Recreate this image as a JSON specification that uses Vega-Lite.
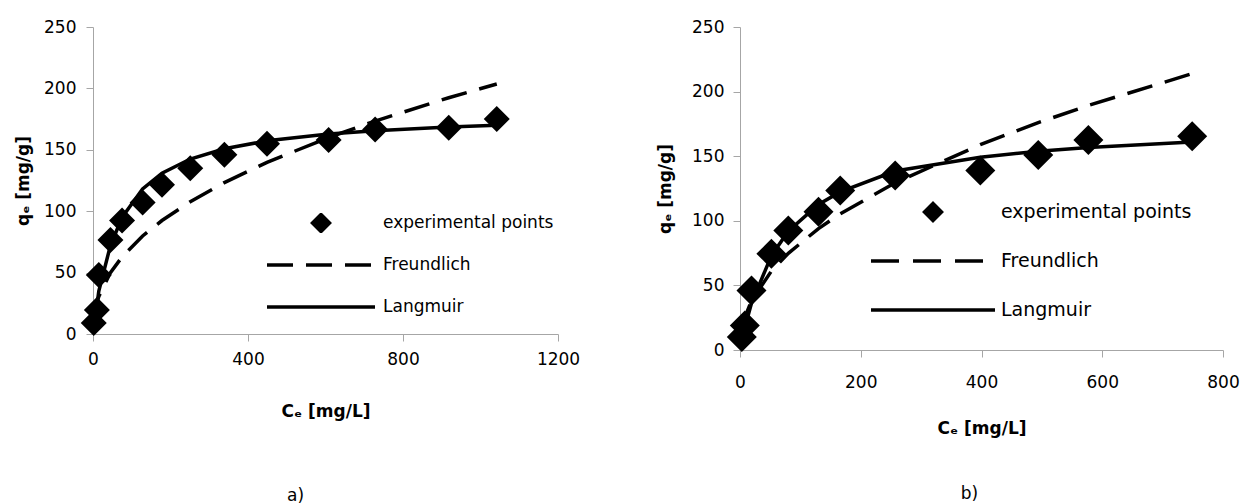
{
  "$schema": "https://vega.github.io/schema/vega-lite/v6.json",
  "background": "white",
  "padding": {"left": 14, "top": 18, "right": 5, "bottom": 0},
  "spacing": 76,
  "config": {
    "view": {"stroke": null},
    "font": "DejaVu Sans",
    "axis": {
      "grid": false,
      "domainColor": "#a6a6a6",
      "tickColor": "#a6a6a6",
      "domainWidth": 1,
      "tickWidth": 1,
      "tickSize": 7,
      "labelFont": "DejaVu Sans",
      "labelFontSize": 17,
      "labelColor": "#000000",
      "labelFlush": false,
      "format": "d",
      "titleFont": "DejaVu Sans",
      "titleFontSize": 17,
      "titleFontWeight": "bold",
      "titleColor": "#000000"
    },
    "legend": {
      "labelFont": "DejaVu Sans",
      "labelColor": "#000000",
      "labelLimit": 400,
      "padding": 0,
      "symbolStrokeWidth": 3.5
    }
  },
  "resolve": {"scale": {"color": "independent"}, "legend": {"color": "independent"}},
  "datasets": {
    "aPts": [
      {"series": "experimental points", "C": 2, "q": 9},
      {"series": "experimental points", "C": 10, "q": 19.5},
      {"series": "experimental points", "C": 15, "q": 48},
      {"series": "experimental points", "C": 45, "q": 76.5},
      {"series": "experimental points", "C": 75, "q": 92.5},
      {"series": "experimental points", "C": 128, "q": 107},
      {"series": "experimental points", "C": 178, "q": 121.5},
      {"series": "experimental points", "C": 251, "q": 135},
      {"series": "experimental points", "C": 339, "q": 146},
      {"series": "experimental points", "C": 449, "q": 155},
      {"series": "experimental points", "C": 608, "q": 158},
      {"series": "experimental points", "C": 728, "q": 166.5},
      {"series": "experimental points", "C": 918, "q": 168},
      {"series": "experimental points", "C": 1042, "q": 175}
    ],
    "aFr": [
      {"series": "Freundlich", "C": 2, "q": 12.4},
      {"series": "Freundlich", "C": 10, "q": 25.5},
      {"series": "Freundlich", "C": 15, "q": 30.6},
      {"series": "Freundlich", "C": 45, "q": 50},
      {"series": "Freundlich", "C": 75, "q": 62.8},
      {"series": "Freundlich", "C": 128, "q": 79.8},
      {"series": "Freundlich", "C": 178, "q": 92.4},
      {"series": "Freundlich", "C": 251, "q": 107.7},
      {"series": "Freundlich", "C": 339, "q": 123.3},
      {"series": "Freundlich", "C": 449, "q": 139.8},
      {"series": "Freundlich", "C": 608, "q": 160},
      {"series": "Freundlich", "C": 728, "q": 173.4},
      {"series": "Freundlich", "C": 918, "q": 192.4},
      {"series": "Freundlich", "C": 1042, "q": 203.6}
    ],
    "aLa": [
      {"series": "Langmuir", "C": 2, "q": 5.2},
      {"series": "Langmuir", "C": 10, "q": 23.2},
      {"series": "Langmuir", "C": 15, "q": 35},
      {"series": "Langmuir", "C": 45, "q": 72.1},
      {"series": "Langmuir", "C": 75, "q": 94.9},
      {"series": "Langmuir", "C": 128, "q": 118.2},
      {"series": "Langmuir", "C": 178, "q": 131},
      {"series": "Langmuir", "C": 251, "q": 142.5},
      {"series": "Langmuir", "C": 339, "q": 150.8},
      {"series": "Langmuir", "C": 449, "q": 157.3},
      {"series": "Langmuir", "C": 608, "q": 162.9},
      {"series": "Langmuir", "C": 728, "q": 165.6},
      {"series": "Langmuir", "C": 918, "q": 168.6},
      {"series": "Langmuir", "C": 1042, "q": 170}
    ],
    "bPts": [
      {"series": "experimental points", "C": 3, "q": 10},
      {"series": "experimental points", "C": 8, "q": 19},
      {"series": "experimental points", "C": 19, "q": 46},
      {"series": "experimental points", "C": 52, "q": 74.5},
      {"series": "experimental points", "C": 80, "q": 92.5},
      {"series": "experimental points", "C": 130, "q": 107},
      {"series": "experimental points", "C": 166, "q": 123.5},
      {"series": "experimental points", "C": 257, "q": 135},
      {"series": "experimental points", "C": 398, "q": 139},
      {"series": "experimental points", "C": 494, "q": 151},
      {"series": "experimental points", "C": 577, "q": 162.5},
      {"series": "experimental points", "C": 749, "q": 165.5}
    ],
    "bFr": [
      {"series": "Freundlich", "C": 3, "q": 16},
      {"series": "Freundlich", "C": 8, "q": 25.3},
      {"series": "Freundlich", "C": 19, "q": 38},
      {"series": "Freundlich", "C": 52, "q": 61.1},
      {"series": "Freundlich", "C": 80, "q": 74.8},
      {"series": "Freundlich", "C": 130, "q": 94},
      {"series": "Freundlich", "C": 166, "q": 105.4},
      {"series": "Freundlich", "C": 257, "q": 129.4},
      {"series": "Freundlich", "C": 398, "q": 158.9},
      {"series": "Freundlich", "C": 494, "q": 176},
      {"series": "Freundlich", "C": 577, "q": 189.3},
      {"series": "Freundlich", "C": 749, "q": 213.9}
    ],
    "bLa": [
      {"series": "Langmuir", "C": 3, "q": 6.9},
      {"series": "Langmuir", "C": 8, "q": 17.3},
      {"series": "Langmuir", "C": 19, "q": 36.1},
      {"series": "Langmuir", "C": 52, "q": 73},
      {"series": "Langmuir", "C": 80, "q": 91.9},
      {"series": "Langmuir", "C": 130, "q": 112.7},
      {"series": "Langmuir", "C": 166, "q": 122.4},
      {"series": "Langmuir", "C": 257, "q": 138.5},
      {"series": "Langmuir", "C": 398, "q": 149.2},
      {"series": "Langmuir", "C": 494, "q": 153.9},
      {"series": "Langmuir", "C": 577, "q": 156.8},
      {"series": "Langmuir", "C": 749, "q": 161}
    ]
  },
  "hconcat": [
    {
      "width": 465,
      "height": 307,
      "title": {"text": "a)", "orient": "bottom", "anchor": "middle", "frame": "group", "dx": -30, "offset": 69, "fontSize": 17, "fontWeight": "normal", "font": "DejaVu Sans", "color": "#000000"},
      "encoding": {
        "x": {"field": "C", "type": "quantitative", "scale": {"domain": [0, 1200], "nice": false}, "axis": {"values": [0, 400, 800, 1200], "title": "Cₑ [mg/L]", "labelPadding": 10, "titlePadding": 36}},
        "y": {"field": "q", "type": "quantitative", "scale": {"domain": [0, 250], "nice": false}, "axis": {"values": [0, 50, 100, 150, 200, 250], "title": "qₑ [mg/g]", "labelPadding": 10, "titlePadding": 11}},
        "color": {
          "field": "series", "type": "nominal",
          "scale": {"domain": ["experimental points", "Freundlich", "Langmuir"], "range": ["#000000", "#000000", "#000000"]},
          "legend": {
            "orient": "none", "legendX": 172, "legendY": 186, "title": null,
            "symbolSize": 11664, "labelFontSize": 17, "labelOffset": 6,
            "clipHeight": 20, "rowPadding": 22,
            "encode": {"symbols": {"update": {
              "shape": {"signal": "datum.value === 'experimental points' ? 'diamond' : 'stroke'"},
              "size": {"signal": "datum.value === 'experimental points' ? 289 : 11664"},
              "strokeDash": {"signal": "datum.value === 'Freundlich' ? [26, 13] : []"},
              "strokeWidth": {"value": 3.5},
              "fill": {"signal": "datum.value === 'experimental points' ? '#000000' : 'transparent'"},
              "stroke": {"signal": "datum.value === 'experimental points' ? 'transparent' : '#000000'"},
              "opacity": {"value": 1}
            }}}
          }
        }
      },
      "layer": [
        {"data": {"name": "aFr"}, "mark": {"type": "line", "strokeWidth": 3.5, "strokeDash": [26, 13]}},
        {"data": {"name": "aLa"}, "mark": {"type": "line", "strokeWidth": 3.5}},
        {"data": {"name": "aPts"}, "mark": {"type": "point", "shape": "diamond", "filled": true, "size": 676, "opacity": 1}}
      ]
    },
    {
      "width": 483,
      "height": 323,
      "title": {"text": "b)", "orient": "bottom", "anchor": "middle", "frame": "group", "dx": -12, "offset": 50, "fontSize": 17, "fontWeight": "normal", "font": "DejaVu Sans", "color": "#000000"},
      "encoding": {
        "x": {"field": "C", "type": "quantitative", "scale": {"domain": [0, 800], "nice": false}, "axis": {"values": [0, 200, 400, 600, 800], "title": "Cₑ [mg/L]", "labelPadding": 17, "titlePadding": 30}},
        "y": {"field": "q", "type": "quantitative", "scale": {"domain": [0, 250], "nice": false}, "axis": {"values": [0, 50, 100, 150, 200, 250], "title": "qₑ [mg/g]", "labelPadding": 9, "titlePadding": 17}},
        "color": {
          "field": "series", "type": "nominal",
          "scale": {"domain": ["experimental points", "Freundlich", "Langmuir"], "range": ["#000000", "#000000", "#000000"]},
          "legend": {
            "orient": "none", "legendX": 129, "legendY": 174, "title": null,
            "symbolSize": 15376, "labelFontSize": 19, "labelOffset": 4,
            "clipHeight": 22, "rowPadding": 27,
            "encode": {"symbols": {"update": {
              "shape": {"signal": "datum.value === 'experimental points' ? 'diamond' : 'stroke'"},
              "size": {"signal": "datum.value === 'experimental points' ? 289 : 15376"},
              "strokeDash": {"signal": "datum.value === 'Freundlich' ? [28, 14] : []"},
              "strokeWidth": {"value": 3.5},
              "fill": {"signal": "datum.value === 'experimental points' ? '#000000' : 'transparent'"},
              "stroke": {"signal": "datum.value === 'experimental points' ? 'transparent' : '#000000'"},
              "opacity": {"value": 1}
            }}}
          }
        }
      },
      "layer": [
        {"data": {"name": "bFr"}, "mark": {"type": "line", "strokeWidth": 3.5, "strokeDash": [26, 13]}},
        {"data": {"name": "bLa"}, "mark": {"type": "line", "strokeWidth": 3.5}},
        {"data": {"name": "bPts"}, "mark": {"type": "point", "shape": "diamond", "filled": true, "size": 900, "opacity": 1}}
      ]
    }
  ]
}
